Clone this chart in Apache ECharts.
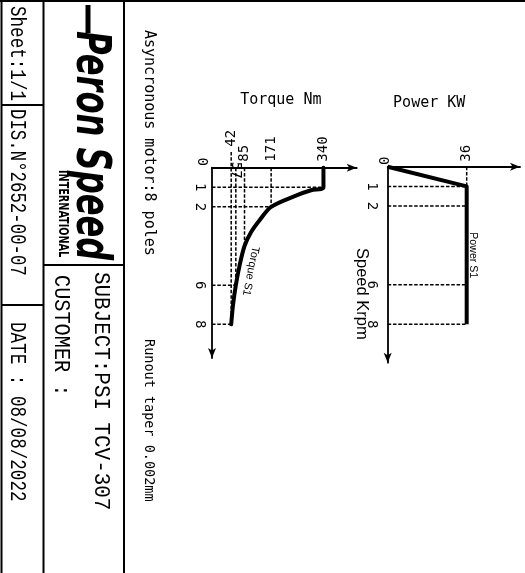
<!DOCTYPE html>
<html>
<head>
<meta charset="utf-8">
<script src="https://cdn.jsdelivr.net/npm/echarts@6/dist/echarts.min.js"></script>
<style>
html, body { margin: 0; padding: 0; background: #fff; }
#chart { width: 525px; height: 573px; }
</style>
</head>
<body>
<div id="chart"></div>
<script>
// speed in krpm, torque in Nm, power in kW
const speedTicks = [1, 2, 6, 8]
const torqueTicks = [42, 57, 85, 171, 340]
const powerTicks = [36]
const curveSpeed = [0, 1, 1.15, 1.4, 2, 2.7, 3.3, 4, 5, 6, 7, 8]
const torqueS1 = [340, 340, 300, 255, 171, 133, 106, 85, 69, 57, 48, 42]
const powerSpeed = [0, 1, 8]
const powerS1 = [0, 36, 36]
// where the dashed guides meet the torque curve
const guideSpeed = [1, 2, 4, 6, 8]
const guideTorque = [340, 171, 85, 57, 42]

const MONO = '"DejaVu Sans Mono", monospace'
const SANS = '"Liberation Sans", Arial, sans-serif'
const TMIN = -20
const TMAX = 447.4
const CW = -Math.PI / 2

const chart = echarts.init(document.getElementById('chart'), null, { renderer: 'canvas' })

function guide(idx, a, b) {
  return {
    type: 'line', xAxisIndex: idx, yAxisIndex: idx, data: [a, b],
    symbol: 'none', silent: true, clip: false, z: 1, animation: false,
    lineStyle: { color: '#000', width: 1.5, type: [3.5, 1.8] },
  }
}

const guides = []
guideSpeed.forEach((s, i) => {
  const t = guideTorque[i]
  if (speedTicks.includes(s)) guides.push(guide(0, [TMIN, s], [t, s]))
  guides.push(guide(0, [t, t === torqueTicks[0] ? -0.8 : 0], [t, s]))
})
speedTicks.forEach((s) => guides.push(guide(1, [0, s], [powerTicks[0], s])))
guides.push(guide(1, [powerTicks[0], 0], [powerTicks[0], powerSpeed[1]]))

function valueAxis(idx, min, max, ticks, extra, arrow) {
  return Object.assign({
    type: 'value', gridIndex: idx, min, max,
    splitLine: { show: false }, axisTick: { show: false },
    axisLine: { show: true, onZero: false, symbol: arrow, symbolSize: [6, 10], lineStyle: { color: '#000', width: 1.8 } },
  }, extra, {
    axisLabel: Object.assign({
      customValues: ticks, rotate: -90, hideOverlap: false,
      color: '#000', fontFamily: MONO, fontSize: 14,
    }, extra.axisLabel),
  })
}

// extra label-only axes for the crowded low torque ticks
function torqueLabels(ticks, margin) {
  return Object.assign(valueAxis(0, TMIN, TMAX, ticks, {
    position: 'top',
    axisLabel: { align: 'left', verticalAlign: 'middle', margin },
  }, ['none', 'none']), { axisLine: { show: false } })
}

const tail = ['none', 'arrow']
const head = ['arrow', 'none']

chart.setOption({
  animation: false,
  grid: [
    { left: 212, top: 167.7, width: 144.7, height: 190.3 },
    { left: 387.7, top: 166.7, width: 132.3, height: 196 },
  ],
  xAxis: [
    valueAxis(0, TMIN, TMAX, torqueTicks.slice(2), {
      position: 'top',
      axisLabel: { align: 'left', verticalAlign: 'middle', margin: 6 },
    }, tail),
    valueAxis(1, 0, 60.3, powerTicks, {
      position: 'top',
      axisLabel: { align: 'left', verticalAlign: 'middle', margin: 5 },
    }, tail),
    torqueLabels(torqueTicks.slice(1, 2), 6),
    torqueLabels(torqueTicks.slice(0, 1), 21),
  ],
  yAxis: [
    valueAxis(0, 0, 9.72, speedTicks, {
      inverse: true,
      axisLabel: { align: 'center', verticalAlign: 'top', margin: 5 },
    }, head),
    valueAxis(1, 0, 9.96, speedTicks, {
      inverse: true,
      axisLabel: { align: 'center', verticalAlign: 'top', margin: 9 },
    }, head),
  ],
  series: [
    ...guides,
    {
      name: 'Torque S1', type: 'line', xAxisIndex: 0, yAxisIndex: 0,
      data: curveSpeed.map((s, i) => [torqueS1[i], s]),
      smooth: 0.3, symbol: 'none', clip: false, z: 3,
      lineStyle: { color: '#000', width: 4, join: 'round', cap: 'round' },
    },
    {
      name: 'Power S1', type: 'line', xAxisIndex: 1, yAxisIndex: 1,
      data: powerSpeed.map((s, i) => [powerS1[i], s]),
      symbol: 'none', clip: false, z: 3,
      lineStyle: { color: '#000', width: 4, join: 'round' },
    },
  ],
})

function text(x, y, str, font, opts) {
  const o = opts || {}
  return {
    type: 'text', x, y, rotation: o.rotation === undefined ? CW : o.rotation,
    scaleX: o.scaleX || 1, silent: true, z: 10,
    style: {
      text: str, font, fill: '#000',
      align: o.align || 'left', verticalAlign: 'middle',
      textAlign: o.align || 'left', textVerticalAlign: 'middle',
    },
  }
}

function line(x1, y1, x2, y2, w) {
  return { type: 'line', silent: true, shape: { x1, y1, x2, y2 }, style: { stroke: '#000', lineWidth: w || 2 } }
}

const o1 = chart.convertToPixel({ gridIndex: 0 }, [TMIN, 0])
const o2 = chart.convertToPixel({ gridIndex: 1 }, [0, 0])
const tq = chart.convertToPixel({ gridIndex: 0 }, [66, 5.28])
const pw = chart.convertToPixel({ gridIndex: 1 }, [powerTicks[0], 4.5])
const TB = '22px "Liberation Mono", monospace'

chart.setOption({
  graphic: [
    // title block frame
    line(0, 1, 525, 1),
    line(1.5, 0, 1.5, 573),
    line(43.5, 0, 43.5, 573),
    line(124, 0, 124, 573),
    line(1.5, 105, 43.5, 105),
    line(1.5, 305, 43.5, 305),
    line(43.5, 265, 124, 265),
    text(16.5, 6, 'Sheet:1/1', TB, { scaleX: 0.8 }),
    text(16.5, 109, 'DIS.N°2652-00-07', TB, { scaleX: 0.79 }),
    text(16.5, 322, 'DATE : 08/08/2022', TB, { scaleX: 0.8 }),
    text(101, 272, 'SUBJECT:PSI TCV-307', TB, { scaleX: 0.95 }),
    text(61, 275, 'CUSTOMER :', TB, { scaleX: 0.92 }),
    // logo
    { type: 'rect', silent: true, shape: { x: 85.5, y: 5, width: 5, height: 28 }, style: { fill: '#000' } },
    text(89, 31, 'Peron Speed', 'italic bold 48px "DejaVu Sans"', { scaleX: 0.67 }),
    text(62.3, 170, 'INTERNATIONAL', 'bold 14px "DejaVu Sans"', { scaleX: 0.69 }),
    // notes
    text(148.5, 30, 'Asyncronous motor:8 poles', '15px ' + MONO),
    text(148.5, 339, 'Runout taper 0.002mm', '13.5px ' + MONO),
    // chart titles
    text(280.8, 100.5, 'Torque Nm', '15px ' + MONO, { rotation: 0, align: 'center' }),
    text(429.2, 103, 'Power KW', '15px ' + MONO, { rotation: 0, align: 'center' }),
    text(361.2, 248, 'Speed Krpm', '16.5px ' + SANS),
    // origin labels
    text(o1[0] - 10, o1[1] - 6, '0', '14px ' + MONO, { align: 'center' }),
    text(o2[0] - 5, o2[1] - 6, '0', '14px ' + MONO, { align: 'center' }),
    // curve names
    text(tq[0] + 12, tq[1], 'Torque S1', '11px ' + SANS, { rotation: -1.763, align: 'center' }),
    text(pw[0] + 6, pw[1], 'Power S1', '10.6px ' + SANS, { align: 'center' }),
  ],
})
</script>
</body>
</html>
